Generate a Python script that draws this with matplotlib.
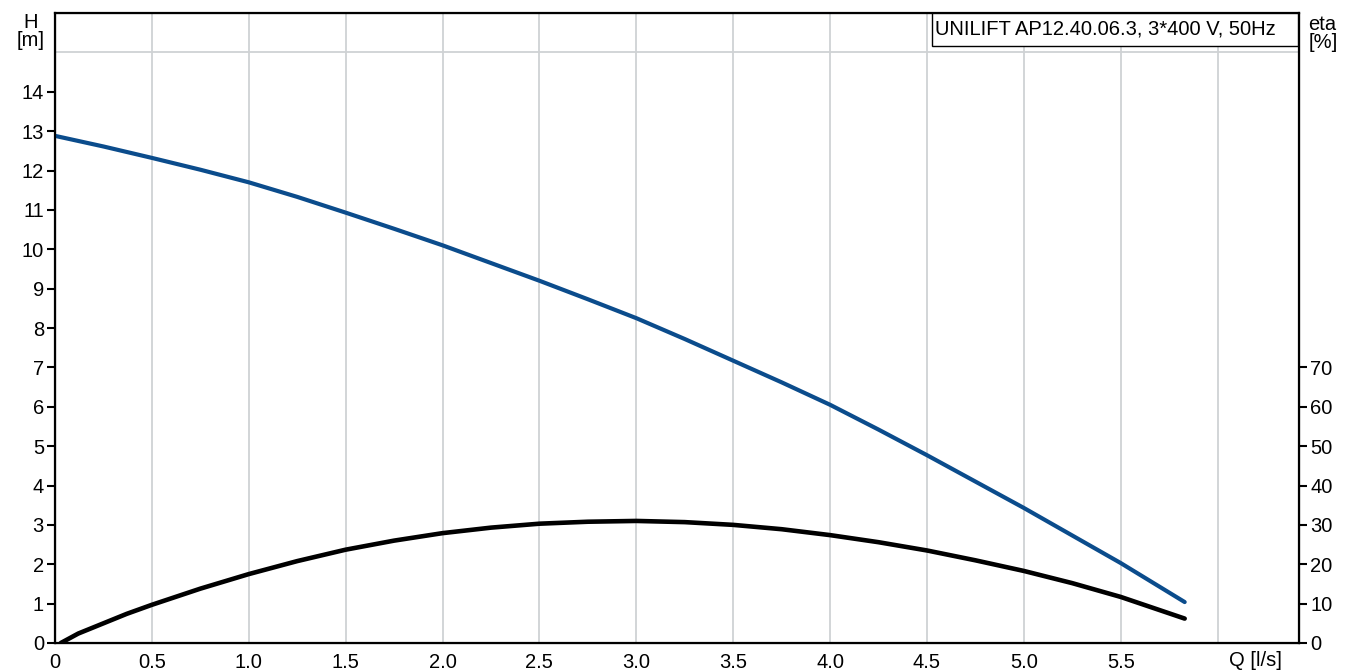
import numpy as np
import matplotlib.pyplot as plt
import matplotlib as mpl

mpl.rcParams['font.family'] = ['Liberation Sans', 'DejaVu Sans']
mpl.rcParams['font.size'] = 14.5

# pump curve data
q_h = [0.0, 0.25, 0.5, 0.75, 1.0, 1.25, 1.5, 1.75, 2.0, 2.25, 2.5, 2.75, 3.0,
       3.25, 3.5, 3.75, 4.0, 4.25, 4.5, 4.75, 5.0, 5.25, 5.5, 5.83]
head = [12.88, 12.61, 12.32, 12.02, 11.7, 11.33, 10.93, 10.52, 10.1, 9.65, 9.2,
        8.73, 8.25, 7.72, 7.17, 6.62, 6.05, 5.42, 4.77, 4.1, 3.43, 2.73, 2.03, 1.04]

q_eta = [0.03, 0.12, 0.25, 0.37, 0.5, 0.75, 1.0, 1.25, 1.5, 1.75, 2.0, 2.25, 2.5, 2.75, 3.0,
         3.25, 3.5, 3.75, 4.0, 4.25, 4.5, 4.75, 5.0, 5.25, 5.5, 5.83]
eta = [0.0, 2.4, 5.0, 7.4, 9.7, 13.8, 17.5, 20.8, 23.7, 26.0, 27.9, 29.3, 30.3, 30.8, 31.0,
       30.7, 30.0, 28.9, 27.4, 25.6, 23.5, 21.0, 18.3, 15.2, 11.7, 6.2]

x_ticks = [0, 0.5, 1.0, 1.5, 2.0, 2.5, 3.0, 3.5, 4.0, 4.5, 5.0, 5.5, 6.0]
x_labels = ['0', '0.5', '1.0', '1.5', '2.0', '2.5', '3.0', '3.5', '4.0', '4.5', '5.0', '5.5', '']
h_ticks = list(range(0, 15))
eta_ticks = list(range(0, 80, 10))
title = 'UNILIFT AP12.40.06.3, 3*400 V, 50Hz'

fig = plt.figure(figsize=(13.52, 6.71), dpi=100)
ax = fig.add_axes([55/1352, 28/671, 1244/1352, 630/671])

ax.set_xlim(0, 6.42)
ax.set_ylim(0, 16)
ax.set_xticks(x_ticks)
ax.set_xticklabels(x_labels)
ax.set_xticks([6.0], minor=True)
ax.set_yticks(h_ticks)
ax.set_yticks(range(0, 17), minor=True)
ax.grid(True, which='major', axis='x', color='#cfd2d4', lw=1.3)
ax.grid(True, which='minor', axis='y', color='#cfd2d4', lw=1.3)
ax.tick_params(axis='x', which='major', length=0, pad=7)
ax.tick_params(axis='x', which='minor', length=6, width=1.5, direction='out')
ax.tick_params(axis='y', which='major', length=6, width=1.5, direction='out', pad=2)
ax.tick_params(axis='y', which='minor', length=0)
for s in ax.spines.values():
    s.set_linewidth(1.6)

ax.plot(q_h, head, color='#0b4c8c', lw=3.0, solid_capstyle='round',
        solid_joinstyle='round', zorder=5)

ax2 = ax.twinx()
ax2.set_ylim(0, 160)
ax2.set_yticks(eta_ticks)
ax2.tick_params(axis='y', length=6, width=1.5, direction='out', pad=2)
ax2.plot(q_eta, eta, color='black', lw=3.3, solid_capstyle='round',
         solid_joinstyle='round', zorder=5)

fig.text(31/1352, 1 - 22/671, 'H', ha='center', va='center')
fig.text(31/1352, 1 - 41/671, '[m]', ha='center', va='center')
fig.text(1322/1352, 1 - 24/671, 'eta', ha='center', va='center')
fig.text(1323/1352, 1 - 42/671, '[%]', ha='center', va='center')
fig.text(1255/1352, 1 - 661/671, 'Q [l/s]', ha='center', va='center')

fig.patches.append(mpl.patches.Rectangle((932/1352, 1 - 46/671), 366/1352, 33/671,
                                         transform=fig.transFigure, fill=True,
                                         facecolor='white', edgecolor='black', lw=1.0,
                                         zorder=10))
fig.text(935/1352, 1 - 29/671, title, ha='left', va='center', zorder=11)

plt.savefig('out.png', dpi=100)
